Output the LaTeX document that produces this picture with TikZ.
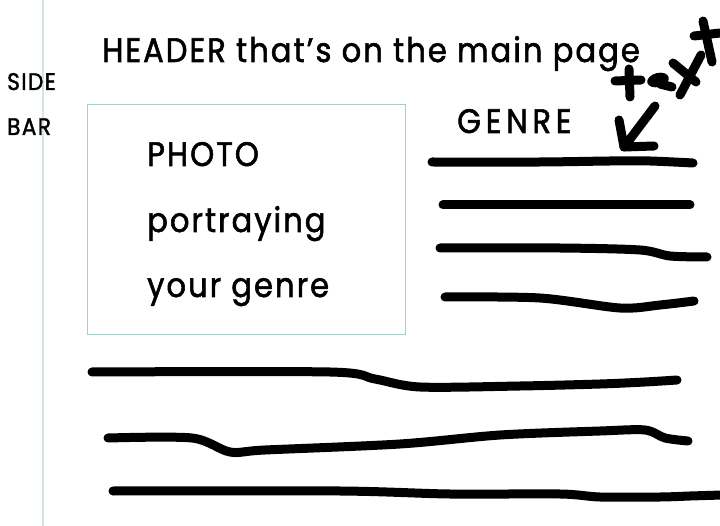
\documentclass[tikz,border=0pt]{standalone}
\usepackage{fontspec}
\setmainfont{Poppins}[LetterSpace=6, FakeStretch=0.9, FakeBold=1.6]
\usetikzlibrary{positioning}
\definecolor{guide}{HTML}{D5E4E8}
\definecolor{frame}{HTML}{A9CCCC}
\tikzset{
  sketch/.style={line width=9pt, line cap=round, line join=round},
  bigtext/.style={anchor=base west, inner sep=0pt, font=\fontsize{34}{40}\selectfont},
  sidetext/.style={anchor=base west, inner sep=0pt, font=\fontsize{24}{28}\selectfont},
}
\begin{document}
\begin{tikzpicture}[x=1pt, y=-1pt]
  \useasboundingbox (0,0) rectangle (720,526);
  % sidebar guide
  \draw[guide, line width=1.2pt] (43,0) -- (43,526);
  \node[sidetext] (side) at (7,90) {SIDE};
  \node[sidetext] (bar) at (7,135) {BAR};

  % header
  \node[bigtext] (header) at (102,62) {HEADER that’s on the main page};

  % photo box
  \draw[frame, line width=0.8pt] (87,104) rectangle (405,334);
  \node[bigtext] (photo) at (147,166) {PHOTO};
  \node[bigtext] (portray) at (147,232) {portraying};
  \node[bigtext] (yourgenre) at (147,297) {your genre};

  % genre column
  \node[bigtext] (genre) at (457,133) {\addfontfeatures{LetterSpace=14}GENRE};
  \draw[sketch] plot[smooth] coordinates {(432,162) (540,162) (610,161) (650,161) (693,163)};
  \draw[sketch] plot[smooth] coordinates {(443,205) (560,205) (690,205)};
  \draw[sketch] plot[smooth] coordinates {(440,248) (560,248) (640,250) (670,256) (707,257)};
  \draw[sketch] plot[smooth] coordinates {(445,297) (540,298) (620,308) (660,305) (694,301)};

  % "text" scribble with arrow
  \draw[sketch] (615,81) -- (641,80);
  \draw[sketch] (629,69) -- (630,97);
  \fill[rotate around={15:(658,80)}] (658,80) ellipse (11pt and 7pt);
  \draw[sketch] (660,84) -- (672,87);
  \draw[sketch] (680,95) -- (701,55);
  \draw[sketch] (673,63) -- (696,82);
  \draw[sketch] (703,21) -- (712,62);
  \draw[sketch] (694,36) -- (720,33);
  \draw[sketch] (655,106) -- (624,147);
  \draw[sketch] (619,120) -- (624,147) -- (654,146);

  % body text lines
  \draw[sketch] plot[smooth] coordinates {(92,372) (330,372) (375,379) (420,387) (520,386) (600,384) (645,382) (677,380)};
  \draw[sketch] plot[smooth] coordinates {(108,438) (192,438) (230,452) (265,450) (400,444) (500,435) (600,431) (645,430) (665,438) (688,441)};
  \draw[sketch] plot[smooth] coordinates {(113,491) (340,491) (450,494) (560,494) (600,497) (660,497) (690,496) (722,495)};
\end{tikzpicture}
\end{document}
